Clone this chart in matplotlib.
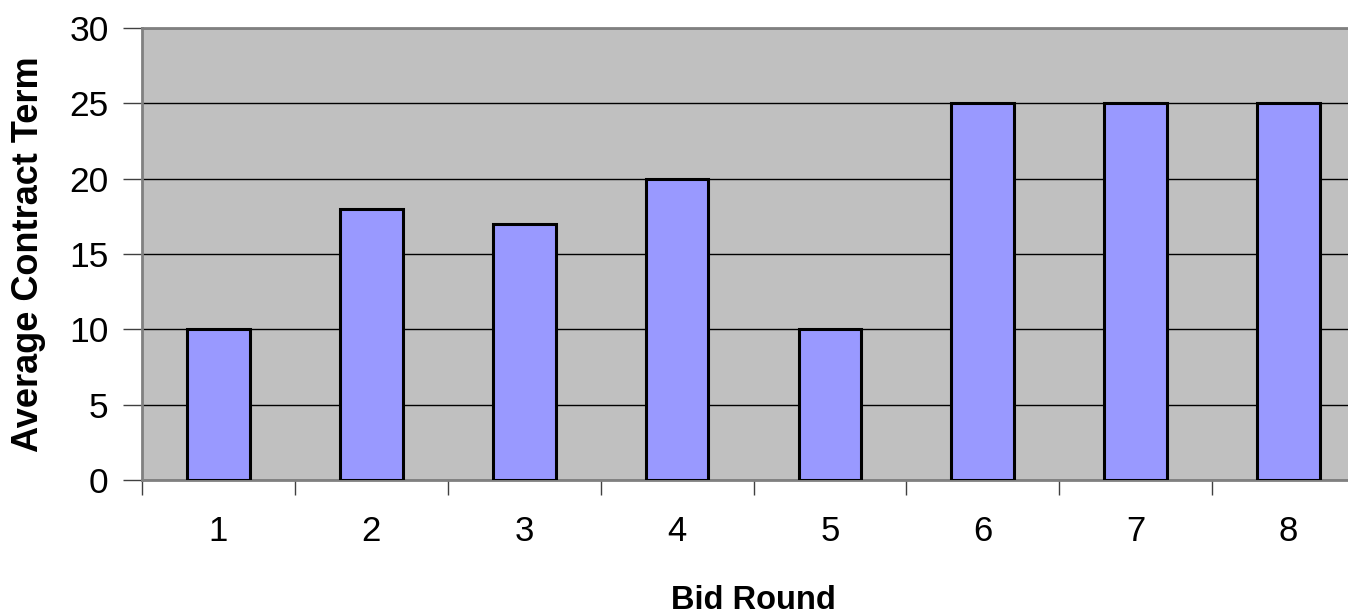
import numpy as np
import matplotlib.pyplot as plt
from matplotlib.ticker import FixedLocator

rounds = ["1", "2", "3", "4", "5", "6", "7", "8"]
avg_term = [10, 18, 17, 20, 10, 25, 25, 25]

plt.rcParams['font.family'] = ['Liberation Sans', 'DejaVu Sans']

fig = plt.figure(figsize=(13.48, 6.16), dpi=100)
# plot area runs a little past the right edge, as in the original
ax = fig.add_axes([142 / 1348, 136 / 616, 1223 / 1348, 452 / 616])
ax.set_facecolor('#c0c0c0')

x = np.arange(len(rounds))
ax.bar(x, avg_term, width=0.41, color='#9999ff', edgecolor='black',
       linewidth=2.2, zorder=3)

ax.set_xlim(-0.5, len(rounds) - 0.5)
ax.set_ylim(0, 30)
ax.set_yticks(range(0, 31, 5))
ax.yaxis.grid(True, color='black', linewidth=1, zorder=1)
ax.set_axisbelow(True)

ax.set_xticks(x)
ax.set_xticklabels(rounds)
ax.tick_params(axis='x', which='major', length=0, pad=25, labelsize=25)
ax.xaxis.set_minor_locator(FixedLocator(np.arange(-0.5, len(rounds), 1.0)))
ax.tick_params(axis='x', which='minor', length=11, width=1, color='#404040')
ax.tick_params(axis='y', length=14, width=1, color='#404040', pad=10, labelsize=25.5)

for side in ['top', 'left', 'bottom']:
    ax.spines[side].set_color('#808080')
    ax.spines[side].set_linewidth(2)
ax.spines['right'].set_visible(False)

ax.set_xlabel("Bid Round", fontsize=23.5, fontweight='bold', labelpad=27)
ax.set_ylabel("Average Contract Term", fontsize=26, fontweight='bold', labelpad=17)

fig.savefig("out.png", dpi=100)
